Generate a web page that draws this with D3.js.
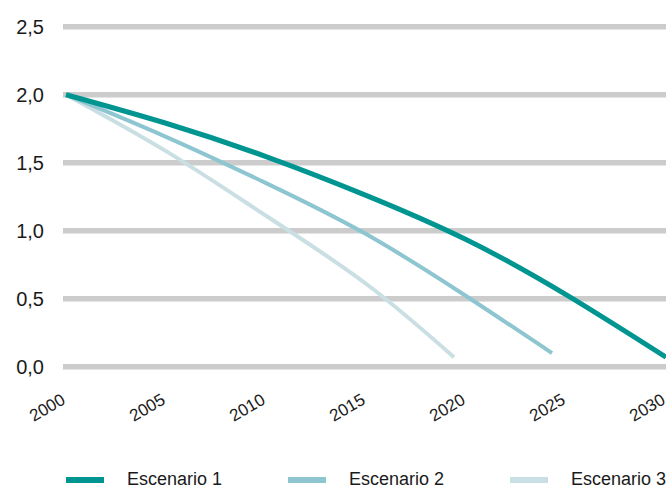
<!DOCTYPE html>
<html>
<head>
<meta charset="utf-8">
<script src="https://cdn.jsdelivr.net/npm/d3@7"></script>
<style>
  html, body { margin: 0; padding: 0; background: #fff; }
  svg { display: block; font-family: "Liberation Sans", Arial, sans-serif; }
</style>
</head>
<body>
<svg id="chart" width="666" height="486"></svg>
<script>
// Scenario curves: years and values (value reaches ~0 at the end of each scenario)
const years1 = [2000, 2005, 2010, 2015, 2020, 2025, 2030];
const values1 = [2.0, 1.79, 1.545, 1.26, 0.935, 0.53, 0.07];
const years2 = [2000, 2005, 2010, 2015, 2020, 2024.3];
const values2 = [2.0, 1.69, 1.35, 0.975, 0.52, 0.1];
const years3 = [2000, 2005, 2010, 2015, 2019.4];
const values3 = [2.0, 1.585, 1.11, 0.61, 0.07];

const seriesNames = ["Escenario 1", "Escenario 2", "Escenario 3"];
const seriesColors = ["#009591", "#8dc6d0", "#cadfe3"];
const seriesWidths = [5, 4, 4];

const xTicks = [2000, 2005, 2010, 2015, 2020, 2025, 2030];
const yTicks = [0, 0.5, 1.0, 1.5, 2.0, 2.5];

const series = [
  { years: years1, values: values1 },
  { years: years2, values: values2 },
  { years: years3, values: values3 }
];

const svg = d3.select("#chart");
const locale = d3.formatLocale({ decimal: ",", thousands: ".", grouping: [3], currency: ["", "€"] });
const fmt = locale.format(".1f");

const x = d3.scaleLinear().domain([2000, 2030]).range([66, 666]);
const y = d3.scaleLinear().domain([0, 2.5]).range([366.7, 26.7]);

// horizontal gridlines
svg.append("g")
  .selectAll("line")
  .data(yTicks)
  .join("line")
  .attr("x1", 63)
  .attr("x2", 670)
  .attr("y1", d => y(d))
  .attr("y2", d => y(d))
  .attr("stroke", "#cccccc")
  .attr("stroke-width", 5.5);

// y axis labels
const yAxis = svg.append("g")
  .attr("transform", "translate(44,0)")
  .call(d3.axisLeft(y).tickValues(yTicks).tickFormat(fmt).tickSize(0).tickPadding(0));
yAxis.select(".domain").remove();
yAxis.selectAll("text")
  .attr("font-family", "Liberation Sans, Arial, sans-serif")
  .attr("font-size", 20)
  .attr("fill", "#1a1a1a");

// x axis labels, rotated
const xAxis = svg.append("g")
  .attr("transform", "translate(0,403)")
  .call(d3.axisBottom(x).tickValues(xTicks).tickFormat(d3.format("d")).tickSize(0).tickPadding(0));
xAxis.select(".domain").remove();
xAxis.selectAll("text")
  .attr("font-family", "Liberation Sans, Arial, sans-serif")
  .attr("font-size", 17)
  .attr("fill", "#1a1a1a")
  .attr("text-anchor", "end")
  .attr("dy", 0)
  .attr("y", 0)
  .attr("transform", "rotate(-30)");

// scenario lines
const line = d3.line()
  .x(d => x(d[0]))
  .y(d => y(d[1]))
  .curve(d3.curveNatural);

svg.append("g")
  .selectAll("path")
  .data(series.slice().reverse())
  .join("path")
  .attr("d", s => line(s.years.map((yr, i) => [yr, s.values[i]])))
  .attr("fill", "none")
  .attr("stroke", (s, i) => seriesColors[2 - i])
  .attr("stroke-width", (s, i) => seriesWidths[2 - i]);

// legend
const legend = svg.append("g")
  .selectAll("g")
  .data(seriesNames)
  .join("g")
  .attr("transform", (d, i) => `translate(${66 + i * 222},480)`);
legend.append("line")
  .attr("x1", 0).attr("x2", 38)
  .attr("y1", 0).attr("y2", 0)
  .attr("stroke", (d, i) => seriesColors[i])
  .attr("stroke-width", 6);
legend.append("text")
  .attr("x", 61)
  .attr("y", 5)
  .attr("font-size", 18)
  .attr("fill", "#1a1a1a")
  .text(d => d);
</script>
</body>
</html>
